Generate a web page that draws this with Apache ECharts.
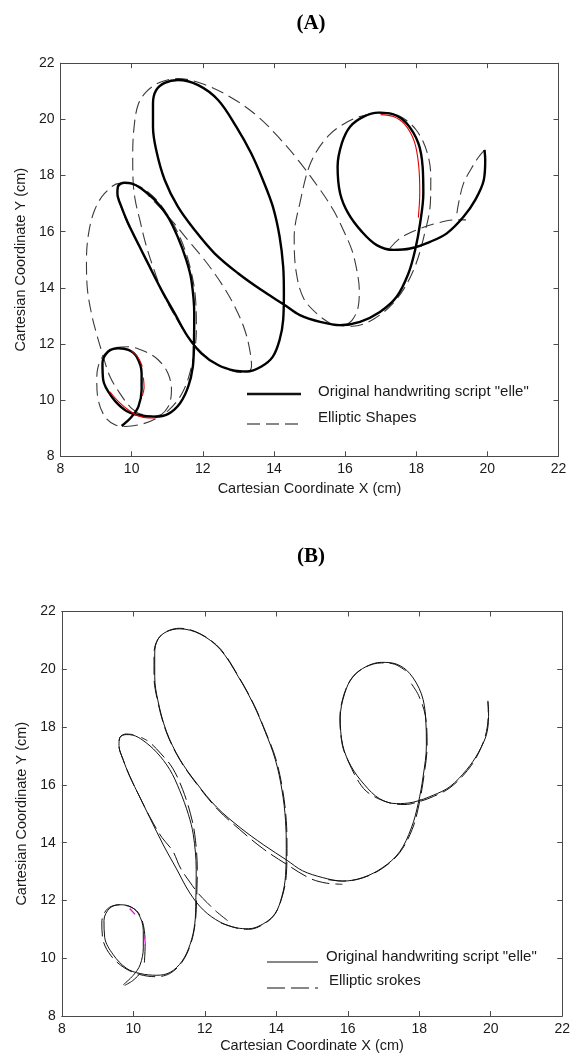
<!DOCTYPE html>
<html>
<head>
<meta charset="utf-8">
<script src="https://cdn.jsdelivr.net/npm/echarts@6/dist/echarts.min.js"></script>
<style>
  html, body { margin: 0; padding: 0; background: #fff; }
  #chart { width: 573px; height: 1059px; }
</style>
</head>
<body>
<div id="chart"></div>
<script>
// Axis ticks (cm) shared by both panels
const xTickValues = [8, 10, 12, 14, 16, 18, 20, 22];
const yTickValues = [8, 10, 12, 14, 16, 18, 20, 22];

// Pen trajectory of the handwritten word "elle" (x, y in cm), in writing order
const scriptElle = [
  [9.72, 9.08], [10.0, 9.41], [10.19, 9.77], [10.28, 10.36], [10.28, 10.96], [10.14, 11.55],
  [9.91, 11.79], [9.63, 11.85], [9.34, 11.73], [9.18, 11.31], [9.2, 10.72], [9.44, 10.12],
  [9.81, 9.65], [10.19, 9.47], [10.66, 9.41], [11.03, 9.51], [11.36, 9.89], [11.59, 10.48],
  [11.72, 11.19], [11.75, 12.0], [11.76, 13.07], [11.68, 14.27], [11.54, 14.98], [11.3, 15.8],
  [11.02, 16.53], [10.65, 17.13], [10.27, 17.54], [9.99, 17.72], [9.8, 17.74], [9.62, 17.63],
  [9.6, 17.36], [9.71, 16.89], [9.9, 16.3], [10.18, 15.58], [10.46, 14.87], [10.84, 13.92],
  [11.21, 13.09], [11.58, 12.26], [11.96, 11.67], [12.43, 11.25], [12.9, 11.05], [13.23, 11.02],
  [13.65, 11.2], [13.97, 11.55], [14.16, 12.15], [14.26, 12.86], [14.28, 13.81], [14.26, 14.76],
  [14.16, 15.82], [13.97, 16.89], [13.69, 17.84], [13.36, 18.79], [12.94, 19.74], [12.43, 20.69],
  [11.87, 21.22], [11.3, 21.4], [10.93, 21.3], [10.69, 21.04], [10.6, 20.57], [10.6, 19.74],
  [10.69, 18.91], [10.93, 17.84], [11.3, 16.89], [11.77, 16.06], [12.33, 15.23], [12.99, 14.52],
  [13.65, 13.92], [14.3, 13.39], [14.73, 13.03], [15.3, 12.79], [15.86, 12.67], [16.42, 12.79],
  [16.98, 13.14], [17.45, 13.68], [17.78, 14.51], [17.97, 15.35], [18.11, 16.3], [18.2, 17.37],
  [18.18, 18.32], [18.06, 19.15], [17.73, 19.86], [17.36, 20.18], [16.94, 20.24], [16.51, 20.09],
  [16.14, 19.74], [15.91, 19.15], [15.79, 18.32], [15.86, 17.37], [16.09, 16.65], [16.47, 16.0],
  [16.89, 15.52], [17.36, 15.35], [17.83, 15.4], [18.39, 15.64], [18.86, 15.94], [19.33, 16.53],
  [19.66, 17.13], [19.9, 17.84], [19.94, 18.55], [19.92, 18.91]
];

// Panel A: elliptic shapes fitted to the strokes
const ellipseA1 = [
  [10.19, 9.53], [9.95, 9.77], [9.67, 10.24], [9.39, 10.84], [9.16, 11.73], [9.01, 12.38],
  [8.87, 13.09], [8.75, 14.04], [8.73, 14.99], [8.79, 15.94], [8.96, 16.77], [9.24, 17.36],
  [9.66, 17.72], [10.12, 17.66], [10.58, 17.28], [11.0, 16.62], [11.36, 15.8], [11.63, 14.8],
  [11.79, 13.7], [11.82, 12.5], [11.7, 11.3], [11.44, 10.3], [11.02, 9.62], [10.6, 9.42], [10.19, 9.53]
];
const ellipseA2 = [
  [9.81, 9.06], [10.3, 9.15], [10.75, 9.4], [11.03, 9.77], [11.12, 10.36], [11.02, 10.96],
  [10.75, 11.43], [10.38, 11.73], [9.91, 11.9], [9.5, 11.86], [9.2, 11.58], [9.05, 11.15],
  [9.02, 10.72], [9.06, 10.01], [9.25, 9.41], [9.53, 9.12], [9.81, 9.06]
];
const ellipseA3 = [
  [11.5, 12.45], [11.12, 13.21], [10.84, 13.92], [10.6, 14.75], [10.39, 15.59], [10.23, 16.42],
  [10.1, 17.13], [10.04, 17.84], [10.03, 18.79], [10.07, 19.74], [10.18, 20.51], [10.41, 20.98],
  [10.8, 21.32], [11.3, 21.45], [12.05, 21.24], [12.9, 20.7], [13.55, 20.1], [14.11, 19.39],
  [14.68, 18.55], [15.3, 17.49], [15.67, 16.77], [15.95, 16.06], [16.19, 15.35], [16.33, 14.63],
  [16.4, 13.92], [16.37, 13.33], [16.2, 12.85], [15.95, 12.62]
];
const ellipseA4 = [
  [9.75, 17.74], [10.1, 17.68], [10.6, 17.12], [11.16, 16.35], [11.58, 15.7], [12.05, 14.99],
  [12.52, 14.16], [12.9, 13.33], [13.18, 12.5], [13.32, 11.79], [13.37, 11.2], [13.2, 10.98],
  [12.8, 11.05], [12.3, 11.35], [11.85, 11.85], [11.45, 12.5], [11.05, 13.4], [10.6, 14.5],
  [10.2, 15.5], [9.85, 16.4], [9.65, 17.1], [9.6, 17.5], [9.75, 17.74]
];
const ellipseA5 = [
  [15.65, 12.68], [15.24, 13.04], [14.83, 13.64], [14.62, 14.61], [14.57, 15.82], [14.73, 17.02],
  [15.04, 18.47], [15.55, 19.44], [16.17, 19.98], [16.6, 20.16], [17.0, 20.25], [17.55, 20.1],
  [18.0, 19.62], [18.3, 18.85], [18.41, 17.95], [18.4, 17.07], [18.22, 15.85], [17.92, 14.62],
  [17.45, 13.6], [16.82, 12.9], [16.2, 12.63], [15.65, 12.68]
];
const ellipseA6 = [
  [19.92, 18.9], [19.75, 18.65], [19.55, 18.25], [19.33, 17.72], [19.19, 17.01], [19.12, 16.45]
];
const ellipseA7 = [
  [17.26, 15.41], [17.55, 15.77], [18.01, 16.06], [18.58, 16.3], [19.12, 16.42], [19.4, 16.42]
];

// Panel A: short coloured traces along the strokes
const redA1 = [[17.0, 20.17], [17.36, 20.1], [17.68, 19.82], [17.95, 19.2], [18.07, 18.35], [18.1, 17.4], [18.06, 16.5]];
const redA2 = [[9.39, 10.3], [9.63, 9.95], [9.91, 9.65], [10.19, 9.44], [10.47, 9.37], [10.66, 9.37]];
const redA3 = [[9.98, 11.77], [10.18, 11.52], [10.3, 11.2]];
const redA4 = [[10.33, 10.8], [10.35, 10.45], [10.3, 10.15]];

// Panel B: elliptic strokes
const strokeB1 = [[9.76, 9.06], [9.98, 9.22], [10.2, 9.48]];
const strokeB2 = [
  [10.31, 9.85], [10.33, 10.4], [10.31, 10.95], [10.18, 11.5], [9.95, 11.76], [9.6, 11.85],
  [9.27, 11.7], [9.12, 11.25], [9.15, 10.65], [9.38, 10.08], [9.76, 9.66], [10.17, 9.44],
  [10.63, 9.36], [11.02, 9.47], [11.36, 9.86], [11.6, 10.47], [11.73, 11.2], [11.77, 12.0],
  [11.79, 13.08], [11.72, 14.28], [11.6, 15.0], [11.38, 15.84], [11.1, 16.58], [10.78, 17.07],
  [10.45, 17.48], [10.22, 17.64]
];
const strokeB3 = [
  [10.0, 17.74], [9.8, 17.76], [9.63, 17.65], [9.6, 17.36], [9.71, 16.89], [9.9, 16.3],
  [10.18, 15.58], [10.48, 14.85], [10.8, 14.18], [11.1, 13.72], [11.32, 13.12], [11.58, 12.64],
  [11.82, 12.24], [12.06, 11.93], [12.32, 11.62], [12.64, 11.3]
];
const strokeB4 = [
  [12.45, 11.22], [12.9, 11.04], [13.23, 11.0], [13.65, 11.18], [13.97, 11.54], [14.17, 12.15],
  [14.28, 12.86], [14.3, 13.81], [14.28, 14.76], [14.18, 15.82], [13.99, 16.89], [13.7, 17.84],
  [13.37, 18.79], [12.95, 19.74], [12.44, 20.7], [11.87, 21.23], [11.3, 21.42], [10.92, 21.3],
  [10.68, 21.02], [10.58, 20.55], [10.58, 19.74], [10.68, 18.91], [10.92, 17.84], [11.3, 16.87],
  [11.78, 16.02], [12.36, 15.15], [12.98, 14.45], [13.62, 13.8], [14.3, 13.24], [14.95, 12.76],
  [15.4, 12.6], [15.85, 12.56]
];
const strokeB5 = [
  [15.45, 12.72], [15.86, 12.67], [16.42, 12.78], [16.98, 13.12], [17.45, 13.65], [17.8, 14.45],
  [17.99, 15.3], [18.13, 16.3], [18.22, 17.37], [18.17, 18.4], [17.98, 19.1], [17.78, 19.5]
];
const strokeB6 = [
  [17.62, 19.95], [17.3, 20.18], [16.94, 20.22], [16.5, 20.08], [16.14, 19.73], [15.9, 19.15],
  [15.78, 18.32], [15.85, 17.37], [16.02, 16.8], [16.32, 16.08], [16.6, 15.7], [17.16, 15.38],
  [17.6, 15.32], [18.0, 15.42], [18.4, 15.6], [18.86, 15.9], [19.35, 16.5], [19.66, 17.1],
  [19.88, 17.84], [19.93, 18.55], [19.92, 18.88]
];

// Panel B: short coloured traces
const magB1 = [[9.9, 11.72], [10.05, 11.52]];
const magB2 = [[10.32, 10.7], [10.34, 10.45]];

const SANS = '"Liberation Sans", Arial, sans-serif';
const SERIF = '"Liberation Serif", "Times New Roman", serif';
const AXIS_COLOR = '#4a4a4a';

const xMin = xTickValues[0], xMax = xTickValues[xTickValues.length - 1];
const yMin = yTickValues[0], yMax = yTickValues[yTickValues.length - 1];
const xStep = xTickValues[1] - xTickValues[0];
const yStep = yTickValues[1] - yTickValues[0];

const grids = [
  { left: 60.5, top: 63.2, width: 498, height: 393.1 },
  { left: 61.8, top: 611.5, width: 503.7, height: 404.5 }
];
const xNameGap = [25, 22];

function xAxesFor(g) {
  const common = {
    type: 'value', gridIndex: g, min: xMin, max: xMax, interval: xStep,
    axisLine: { show: true, onZero: false, lineStyle: { color: AXIS_COLOR, width: 1 } },
    axisTick: { show: true, inside: true, length: 5, lineStyle: { color: AXIS_COLOR } },
    splitLine: { show: false }
  };
  return [
    Object.assign({}, common, {
      position: 'bottom',
      axisLabel: { margin: 6, color: '#1a1a1a', fontSize: 14, fontFamily: SANS },
      name: 'Cartesian Coordinate X (cm)', nameLocation: 'middle', nameGap: xNameGap[g],
      nameTextStyle: { color: '#1a1a1a', fontSize: 14.5, fontFamily: SANS }
    }),
    Object.assign({}, common, { position: 'top', axisLabel: { show: false } })
  ];
}
function yAxesFor(g) {
  const common = {
    type: 'value', gridIndex: g, min: yMin, max: yMax, interval: yStep,
    axisLine: { show: true, onZero: false, lineStyle: { color: AXIS_COLOR, width: 1 } },
    axisTick: { show: true, inside: true, length: 5, lineStyle: { color: AXIS_COLOR } },
    splitLine: { show: false }
  };
  return [
    Object.assign({}, common, {
      position: 'left',
      axisLabel: { margin: 6, color: '#1a1a1a', fontSize: 14, fontFamily: SANS },
      name: 'Cartesian Coordinate Y (cm)', nameLocation: 'middle', nameGap: 32,
      nameTextStyle: { color: '#1a1a1a', fontSize: 14.5, fontFamily: SANS }
    }),
    Object.assign({}, common, { position: 'right', axisLabel: { show: false } })
  ];
}

function path(data, g, color, width, dash, z) {
  return {
    type: 'line', data: data, xAxisIndex: g * 2, yAxisIndex: g * 2,
    showSymbol: false, symbol: 'none', smooth: 0.35, silent: true,
    lineStyle: { color: color, width: width, type: dash || 'solid' },
    z: z, animation: false
  };
}

const dashA = [13, 6];
const dashB = [18, 6];

const series = [];
[ellipseA1, ellipseA2, ellipseA3, ellipseA4, ellipseA5, ellipseA6, ellipseA7].forEach(function (e) {
  series.push(path(e, 0, '#3a3a3a', 1.1, dashA, 2));
});
series.push(path(scriptElle, 0, '#000', 2.4, null, 3));
[redA1, redA2, redA3, redA4].forEach(function (r) { series.push(path(r, 0, '#e00000', 1.1, null, 4)); });

series.push(path(scriptElle, 1, '#111', 1, null, 2));
[strokeB1, strokeB2, strokeB3, strokeB4, strokeB5, strokeB6].forEach(function (s) {
  series.push(path(s, 1, '#111', 1, dashB, 3));
});
[magB1, magB2].forEach(function (m) { series.push(path(m, 1, '#e000e0', 1.2, null, 4)); });

function legendLine(x1, x2, y, width, dash) {
  return {
    type: 'line', silent: true, z: 10,
    shape: { x1: x1, y1: y, x2: x2, y2: y },
    style: { stroke: '#111', lineWidth: width, lineDash: dash || null }
  };
}
function legendText(x, y, text) {
  return {
    type: 'text', silent: true, z: 10, x: x, y: y,
    style: { text: text, fill: '#1a1a1a', fontSize: 15, fontFamily: SANS, align: 'left', verticalAlign: 'middle' }
  };
}

const option = {
  animation: false,
  backgroundColor: '#fff',
  title: [
    { text: '(A)', left: 306, top: 8, textAlign: 'center',
      textStyle: { fontFamily: SERIF, fontWeight: 'bold', fontSize: 21, color: '#000' } },
    { text: '(B)', left: 306, top: 541, textAlign: 'center',
      textStyle: { fontFamily: SERIF, fontWeight: 'bold', fontSize: 21, color: '#000' } }
  ],
  grid: grids,
  xAxis: xAxesFor(0).concat(xAxesFor(1)),
  yAxis: yAxesFor(0).concat(yAxesFor(1)),
  series: series,
  graphic: [
    legendLine(247, 301, 394, 2.4),
    legendText(318, 392, 'Original handwriting script "elle"'),
    legendLine(247, 301, 424, 1.1, dashA),
    legendText(318, 418, 'Elliptic Shapes'),
    legendLine(267, 318, 962, 1),
    legendText(326, 957, 'Original handwriting script "elle"'),
    legendLine(267, 318, 988, 1, dashB),
    legendText(329, 981, 'Elliptic srokes')
  ]
};

const chart = echarts.init(document.getElementById('chart'), null, { renderer: 'canvas' });
chart.setOption(option);
</script>
</body>
</html>
